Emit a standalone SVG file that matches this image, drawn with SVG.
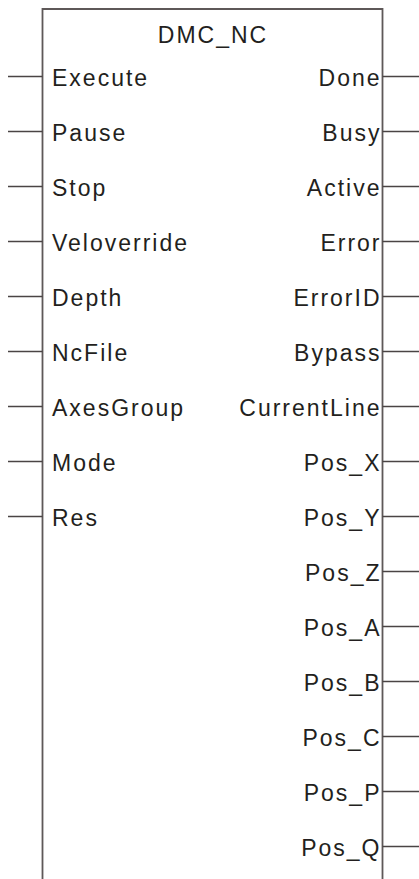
<svg xmlns="http://www.w3.org/2000/svg" width="419" height="879" viewBox="0 0 419 879">
<style>
.t{font-family:"Liberation Sans",Arial,sans-serif;font-size:23px;letter-spacing:2px;fill:#231f20}
.l{text-anchor:start}
.r{text-anchor:end}
.pin{stroke:#4a4444;stroke-width:1.5;fill:none}
.box{stroke:#5e5858;stroke-width:1.8;fill:#fff}
</style>
<g id="block">
<path class="box" d="M42.5,880 V9 H382.5 V880"/>
<text class="t" x="213" y="43" text-anchor="middle">DMC_NC</text>
</g>
<g id="connectors">
<path class="pin" d="M8,76.5H42.5M8,131.5H42.5M8,186.5H42.5M8,241.5H42.5M8,296.5H42.5M8,351.5H42.5M8,406.5H42.5M8,461.5H42.5M8,516.5H42.5"/>
<path class="pin" d="M382.5,76.5H419M382.5,131.5H419M382.5,186.5H419M382.5,241.5H419M382.5,296.5H419M382.5,351.5H419M382.5,406.5H419M382.5,461.5H419M382.5,516.5H419M382.5,571.5H419M382.5,626.5H419M382.5,681.5H419M382.5,736.5H419M382.5,791.5H419M382.5,846.5H419"/>
</g>
<g id="inputs" class="t l">
<text x="52" y="85.5">Execute</text>
<text x="52" y="140.5">Pause</text>
<text x="52" y="195.5">Stop</text>
<text x="52" y="250.5">Veloverride</text>
<text x="52" y="305.5">Depth</text>
<text x="52" y="360.5">NcFile</text>
<text x="52" y="415.5">AxesGroup</text>
<text x="52" y="470.5">Mode</text>
<text x="52" y="525.5">Res</text>
</g>
<g id="outputs" class="t r">
<text x="381.5" y="85.5">Done</text>
<text x="381.5" y="140.5">Busy</text>
<text x="381.5" y="195.5">Active</text>
<text x="381.5" y="250.5">Error</text>
<text x="381.5" y="305.5">ErrorID</text>
<text x="381.5" y="360.5">Bypass</text>
<text x="381.5" y="415.5">CurrentLine</text>
<text x="381.5" y="470.5">Pos_X</text>
<text x="381.5" y="525.5">Pos_Y</text>
<text x="381.5" y="580.5">Pos_Z</text>
<text x="381.5" y="635.5">Pos_A</text>
<text x="381.5" y="690.5">Pos_B</text>
<text x="381.5" y="745.5">Pos_C</text>
<text x="381.5" y="800.5">Pos_P</text>
<text x="381.5" y="855.5">Pos_Q</text>
</g>
</svg>
